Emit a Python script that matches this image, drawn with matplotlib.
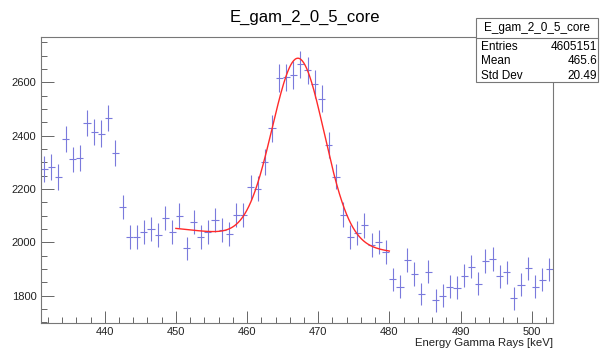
import numpy as np
import matplotlib
matplotlib.use("Agg")
import matplotlib.pyplot as plt
from matplotlib.patches import Rectangle
from matplotlib.lines import Line2D
from matplotlib.ticker import MultipleLocator

plt.rcParams['font.family'] = ['Liberation Sans', 'DejaVu Sans']

# histogram contents, 1 keV bins starting at 431 keV
bin_lo = 431
counts = [2275, 2282, 2245, 2386, 2311, 2316, 2447, 2415, 2408, 2467,
          2336, 2133, 2021, 2020, 2040, 2050, 2028, 2090, 2040, 2100,
          1977, 2075, 2021, 2037, 2083, 2047, 2031, 2102, 2102, 2207,
          2200, 2302, 2427, 2616, 2619, 2627, 2667, 2645, 2594, 2538,
          2365, 2246, 2104, 2021, 2034, 2063, 1990, 2002, 1964, 1862,
          1834, 1934, 1881, 1806, 1890, 1782, 1800, 1834, 1829, 1874,
          1909, 1845, 1930, 1937, 1872, 1887, 1790, 1840, 1902, 1834,
          1859, 1899]

# gaus + pol1 fit, parameters
fit_range = (450, 480)
fit_amp = 688
fit_mean = 467.2
fit_sigma = 3.65
bkg_p0 = 3348
bkg_p1 = -2.88

hist_title = "E_gam_2_0_5_core"
x_title = "Energy Gamma Rays [keV]"
stats_rows = [("Entries", "4605151"), ("Mean", "465.6"), ("Std Dev", "20.49")]

W, H = 600, 353
fig = plt.figure(figsize=(6, 3.53), dpi=100)
ax = fig.add_axes([40.7 / W, 1 - 323.3 / H, (553 - 40.7) / W, (323.3 - 37.3) / H])

centers = bin_lo + 0.5 + np.arange(len(counts))
y = np.array(counts, dtype=float)
ax.errorbar(centers, y, xerr=0.5, yerr=np.sqrt(y), fmt='none',
            ecolor='#7a7adc', elinewidth=0.8, capsize=0)

xf = np.linspace(fit_range[0], fit_range[1], 300)
yf = fit_amp * np.exp(-0.5 * ((xf - fit_mean) / fit_sigma) ** 2) + bkg_p0 + bkg_p1 * xf
ax.plot(xf, yf, color='#ff2a2a', lw=1.0)

ax.set_xlim(431, 503)
ax.set_ylim(1696, 2769)
ax.xaxis.set_major_locator(MultipleLocator(10))
ax.xaxis.set_minor_locator(MultipleLocator(2))
ax.yaxis.set_major_locator(MultipleLocator(200))
ax.yaxis.set_minor_locator(MultipleLocator(50))
ax.tick_params(which='both', direction='in', top=False, right=False,
               color='#666666', labelsize=8, labelcolor='#222222')
ax.tick_params(which='major', length=9, width=0.7)
ax.tick_params(which='minor', length=4.5, width=0.7)
ax.tick_params(axis='x', pad=3)
ax.tick_params(axis='y', pad=3)
for s in ax.spines.values():
    s.set_color('#777777')
    s.set_linewidth(0.8)

fig.text(305 / W, 1 - 17 / H, hist_title, ha='center', va='center', fontsize=12)
fig.text(553 / W, 1 - 343 / H, x_title, ha='right', va='center', fontsize=8.2,
         color='#222222')

# stats box
bx0, bx1, by0, by1 = 476, 598, 18, 82
fig.patches.append(Rectangle((bx0 / W, 1 - by1 / H), (bx1 - bx0) / W, (by1 - by0) / H,
                             transform=fig.transFigure, facecolor='white',
                             edgecolor='#777777', lw=0.8, zorder=5))
fig.lines.append(Line2D([bx0 / W, bx1 / W], [1 - 38 / H, 1 - 38 / H],
                        transform=fig.transFigure, color='#777777', lw=0.8, zorder=6))
fig.text((bx0 + bx1) / 2 / W, 1 - 28 / H, hist_title, ha='center', va='center',
         fontsize=8.5, zorder=7)
for i, (lab, val) in enumerate(stats_rows):
    yy = 1 - (47 + i * 14.3) / H
    fig.text(481 / W, yy, lab, ha='left', va='center', fontsize=8.5, zorder=7)
    fig.text(597 / W, yy, val, ha='right', va='center', fontsize=8.5, zorder=7)

fig.savefig("out.png", dpi=100, facecolor='white')
